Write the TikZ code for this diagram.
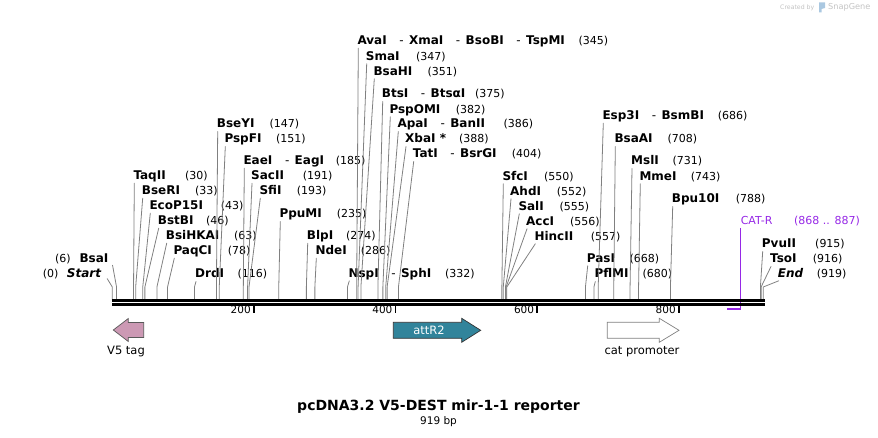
\documentclass[tikz,border=0pt]{standalone}
\usepackage{fontspec}
\setmainfont{DejaVu Sans}
\usepackage{tikz}
\usetikzlibrary{calc}
\definecolor{cutgray}{RGB}{128,128,128}
\definecolor{vfive}{RGB}{204,153,180}
\definecolor{attr}{RGB}{49,132,155}
\definecolor{primer}{RGB}{150,40,230}
\definecolor{logo}{RGB}{195,195,195}
\definecolor{logoicon}{RGB}{170,200,225}
\newcommand{\sitex}[1]{112.3+0.7083*#1}
\newcommand{\dsh}{\hspace{1.05em}{\mdseries -}\hspace{0.45em}}

\begin{document}
\begin{tikzpicture}[x=1pt, y=-1pt, line join = round, line cap = round,
    enz/.style={anchor=west, inner sep=0pt, text height=8.5pt, text depth=2.5pt, font=\fontsize{12}{14}\selectfont\bfseries},
    bpnum/.style={anchor=west, inner sep=0pt, text height=8.5pt, text depth=2.5pt, font=\fontsize{11}{13}\selectfont},
    cut/.style={draw=cutgray, line width=0.8pt, to path={-- ([yshift=13pt]\tikztotarget) -- (\tikztotarget)}},
    bb/.style={line width=2.3pt, line cap=butt},
    tickmark/.style={line width=1.6pt, line cap=butt},
    ticklabel/.style={anchor=east, inner sep=0pt, font=\fontsize{10.5}{12}\selectfont},
    feat/.style={line width=0.7pt, line join=miter},
    featlabel/.style={inner sep=0pt, font=\fontsize{11.5}{13}\selectfont}]
  \useasboundingbox (0,0) rectangle (878,438);

  % left of the start
  \node[enz] (start) at (66.7,274.7) {\itshape Start};
  \node[bpnum] (startn) at (42.7,274.7) {(0)};
  \coordinate (starts) at (\sitex{0},300);
  \draw[cut] ([xshift=6pt,yshift=-4pt]start.east) to (starts);
  \node[enz] (bsaI) at (79.3,259.3) {BsaI};
  \node[bpnum] (bsaIn) at (55,259.3) {(6)};
  \coordinate (bsaIs) at (\sitex{6},300);
  \draw[cut] ([xshift=4pt,yshift=-6pt]bsaI.east) to (bsaIs);

  \node[enz] (taqII) at (133.3,176.7) {TaqII};
  \node[bpnum] (taqIIn) at (185,176.7) {(30)};
  \coordinate (taqIIs) at (\sitex{30},300);
  \draw[cut] ([xshift=1pt,yshift=-6.5pt]taqII.west) to (taqIIs);
  \node[enz] (bseRI) at (141.7,191.7) {BseRI};
  \node[bpnum] (bseRIn) at (195,191.7) {(33)};
  \coordinate (bseRIs) at (\sitex{33},300);
  \draw[cut] ([xshift=1pt,yshift=-6.5pt]bseRI.west) to (bseRIs);
  \node[enz] (ecoP) at (149.3,206.7) {EcoP15I};
  \node[bpnum] (ecoPn) at (220.7,206.7) {(43)};
  \coordinate (ecoPs) at (\sitex{43},300);
  \draw[cut] ([xshift=1pt,yshift=-6.5pt]ecoP.west) to (ecoPs);
  \node[enz] (bstBI) at (157.7,221.7) {BstBI};
  \node[bpnum] (bstBIn) at (206,221.7) {(46)};
  \coordinate (bstBIs) at (\sitex{46},300);
  \draw[cut] ([xshift=1pt,yshift=-6.5pt]bstBI.west) to (bstBIs);
  \node[enz] (bsiHKAI) at (165.7,236.7) {BsiHKAI};
  \node[bpnum] (bsiHKAIn) at (234,236.7) {(63)};
  \coordinate (bsiHKAIs) at (\sitex{63},300);
  \draw[cut] ([xshift=1pt,yshift=-6.5pt]bsiHKAI.west) to (bsiHKAIs);
  \node[enz] (paqCI) at (173.3,251.7) {PaqCI};
  \node[bpnum] (paqCIn) at (227.7,251.7) {(78)};
  \coordinate (paqCIs) at (\sitex{78},300);
  \draw[cut] ([xshift=1pt,yshift=-6.5pt]paqCI.west) to (paqCIs);
  \node[enz] (drdI) at (195,275) {DrdI};
  \node[bpnum] (drdIn) at (237.3,275) {(116)};
  \coordinate (drdIs) at (\sitex{116},300);
  \draw[cut] ([xshift=1pt,yshift=-6.5pt]drdI.west) to (drdIs);

  \node[enz] (bseYI) at (216.7,125) {BseYI};
  \node[bpnum] (bseYIn) at (269.3,125) {(147)};
  \coordinate (bseYIs) at (\sitex{147},300);
  \draw[cut] ([xshift=1pt,yshift=-6.5pt]bseYI.west) to (bseYIs);
  \node[enz] (pspFI) at (224.3,140) {PspFI};
  \node[bpnum] (pspFIn) at (276,140) {(151)};
  \coordinate (pspFIs) at (\sitex{151},300);
  \draw[cut] ([xshift=1pt,yshift=-6.5pt]pspFI.west) to (pspFIs);
  \node[enz] (eaeI) at (243.3,161.7) {EaeI\dsh EagI};
  \node[bpnum] (eaeIn) at (335.7,161.7) {(185)};
  \coordinate (eaeIs) at (\sitex{185},300);
  \draw[cut] ([xshift=1pt,yshift=-6.5pt]eaeI.west) to (eaeIs);
  \node[enz] (sacII) at (251,176.7) {SacII};
  \node[bpnum] (sacIIn) at (302.7,176.7) {(191)};
  \coordinate (sacIIs) at (\sitex{191},300);
  \draw[cut] ([xshift=1pt,yshift=-6.5pt]sacII.west) to (sacIIs);
  \node[enz] (sfiI) at (259.3,191.7) {SfiI};
  \node[bpnum] (sfiIn) at (296.7,191.7) {(193)};
  \coordinate (sfiIs) at (\sitex{193},300);
  \draw[cut] ([xshift=1pt,yshift=-6.5pt]sfiI.west) to (sfiIs);
  \node[enz] (ppuMI) at (279.3,215) {PpuMI};
  \node[bpnum] (ppuMIn) at (336.7,215) {(235)};
  \coordinate (ppuMIs) at (\sitex{235},300);
  \draw[cut] ([xshift=1pt,yshift=-6.5pt]ppuMI.west) to (ppuMIs);
  \node[enz] (blpI) at (306.7,236.7) {BlpI};
  \node[bpnum] (blpIn) at (346,236.7) {(274)};
  \coordinate (blpIs) at (\sitex{274},300);
  \draw[cut] ([xshift=1pt,yshift=-6.5pt]blpI.west) to (blpIs);
  \node[enz] (ndeI) at (315.3,251.7) {NdeI};
  \node[bpnum] (ndeIn) at (360.7,251.7) {(286)};
  \coordinate (ndeIs) at (\sitex{286},300);
  \draw[cut] ([xshift=1pt,yshift=-6.5pt]ndeI.west) to (ndeIs);
  \node[enz] (nspI) at (348.3,274.3) {NspI\dsh SphI};
  \node[bpnum] (nspIn) at (445,274.3) {(332)};
  \coordinate (nspIs) at (\sitex{332},300);
  \draw[cut] ([xshift=1pt,yshift=-6.5pt]nspI.west) to (nspIs);

  \node[enz] (avaI) at (357.3,41.7) {AvaI\dsh XmaI\dsh BsoBI\dsh TspMI};
  \node[bpnum] (avaIn) at (578.3,41.7) {(345)};
  \coordinate (avaIs) at (\sitex{345},300);
  \draw[cut] ([xshift=1pt,yshift=-6.5pt]avaI.west) to (avaIs);
  \node[enz] (smaI) at (365.7,57.3) {SmaI};
  \node[bpnum] (smaIn) at (416,57.3) {(347)};
  \coordinate (smaIs) at (\sitex{347},300);
  \draw[cut] ([xshift=1pt,yshift=-6.5pt]smaI.west) to (smaIs);
  \node[enz] (bsaHI) at (373.3,72.3) {BsaHI};
  \node[bpnum] (bsaHIn) at (427.3,72.3) {(351)};
  \coordinate (bsaHIs) at (\sitex{351},300);
  \draw[cut] ([xshift=1pt,yshift=-6.5pt]bsaHI.west) to (bsaHIs);
  \node[enz] (btsI) at (381.7,95) {BtsI\dsh BtsαI};
  \node[bpnum] (btsIn) at (475,95) {(375)};
  \coordinate (btsIs) at (\sitex{375},300);
  \draw[cut] ([xshift=1pt,yshift=-6.5pt]btsI.west) to (btsIs);
  \node[enz] (pspOMI) at (389.3,110.3) {PspOMI};
  \node[bpnum] (pspOMIn) at (455.7,110.3) {(382)};
  \coordinate (pspOMIs) at (\sitex{382},300);
  \draw[cut] ([xshift=1pt,yshift=-6.5pt]pspOMI.west) to (pspOMIs);
  \node[enz] (apaI) at (397.3,125) {ApaI\dsh BanII};
  \node[bpnum] (apaIn) at (503.3,125) {(386)};
  \coordinate (apaIs) at (\sitex{386},300);
  \draw[cut] ([xshift=1pt,yshift=-6.5pt]apaI.west) to (apaIs);
  \node[enz] (xbaI) at (405,140) {XbaI *};
  \node[bpnum] (xbaIn) at (459,140) {(388)};
  \coordinate (xbaIs) at (\sitex{388},300);
  \draw[cut] ([xshift=1pt,yshift=-6.5pt]xbaI.west) to (xbaIs);
  \node[enz] (tatI) at (412.7,155) {TatI\dsh BsrGI};
  \node[bpnum] (tatIn) at (511.7,155) {(404)};
  \coordinate (tatIs) at (\sitex{404},300);
  \draw[cut] ([xshift=1pt,yshift=-6.5pt]tatI.west) to (tatIs);

  \node[enz] (sfcI) at (502.3,177.3) {SfcI};
  \node[bpnum] (sfcIn) at (544,177.3) {(550)};
  \coordinate (sfcIs) at (\sitex{550},300);
  \draw[cut] ([xshift=1pt,yshift=-6.5pt]sfcI.west) to (sfcIs);
  \node[enz] (ahdI) at (510,192.3) {AhdI};
  \node[bpnum] (ahdIn) at (556.7,192.3) {(552)};
  \coordinate (ahdIs) at (\sitex{552},300);
  \draw[cut] ([xshift=1pt,yshift=-6.5pt]ahdI.west) to (ahdIs);
  \node[enz] (salI) at (518.3,207.3) {SalI};
  \node[bpnum] (salIn) at (559.3,207.3) {(555)};
  \coordinate (salIs) at (\sitex{555},300);
  \draw[cut] ([xshift=1pt,yshift=-6.5pt]salI.west) to (salIs);
  \node[enz] (accI) at (526,222.3) {AccI};
  \node[bpnum] (accIn) at (570,222.3) {(556)};
  \coordinate (accIs) at (\sitex{556},300);
  \draw[cut] ([xshift=1pt,yshift=-6.5pt]accI.west) to (accIs);
  \node[enz] (hincII) at (534.3,237.3) {HincII};
  \node[bpnum] (hincIIn) at (590.7,237.3) {(557)};
  \coordinate (hincIIs) at (\sitex{557},300);
  \draw[cut] ([xshift=1pt,yshift=-6.5pt]hincII.west) to (hincIIs);
  \node[enz] (pasI) at (586.7,259.3) {PasI};
  \node[bpnum] (pasIn) at (629.3,259.3) {(668)};
  \coordinate (pasIs) at (\sitex{668},300);
  \draw[cut] ([xshift=1pt,yshift=-6.5pt]pasI.west) to (pasIs);
  \node[enz] (pflMI) at (594.3,275) {PflMI};
  \node[bpnum] (pflMIn) at (642.3,275) {(680)};
  \coordinate (pflMIs) at (\sitex{680},300);
  \draw[cut] ([xshift=1pt,yshift=-6.5pt]pflMI.west) to (pflMIs);

  \node[enz] (esp3I) at (602.3,116.7) {Esp3I\dsh BsmBI};
  \node[bpnum] (esp3In) at (717.7,116.7) {(686)};
  \coordinate (esp3Is) at (\sitex{686},300);
  \draw[cut] ([xshift=1pt,yshift=-6.5pt]esp3I.west) to (esp3Is);
  \node[enz] (bsaAI) at (614.3,140) {BsaAI};
  \node[bpnum] (bsaAIn) at (667.3,140) {(708)};
  \coordinate (bsaAIs) at (\sitex{708},300);
  \draw[cut] ([xshift=1pt,yshift=-6.5pt]bsaAI.west) to (bsaAIs);
  \node[enz] (mslI) at (631,162) {MslI};
  \node[bpnum] (mslIn) at (672.3,162) {(731)};
  \coordinate (mslIs) at (\sitex{731},300);
  \draw[cut] ([xshift=1pt,yshift=-6.5pt]mslI.west) to (mslIs);
  \node[enz] (mmeI) at (639.3,177.3) {MmeI};
  \node[bpnum] (mmeIn) at (690.7,177.3) {(743)};
  \coordinate (mmeIs) at (\sitex{743},300);
  \draw[cut] ([xshift=1pt,yshift=-6.5pt]mmeI.west) to (mmeIs);
  \node[enz] (bpu10I) at (671.7,200) {Bpu10I};
  \node[bpnum] (bpu10In) at (735.7,200) {(788)};
  \coordinate (bpu10Is) at (\sitex{788},300);
  \draw[cut] ([xshift=1pt,yshift=-6.5pt]bpu10I.west) to (bpu10Is);

  \node[enz] (pvuII) at (761.7,245) {PvuII};
  \node[bpnum] (pvuIIn) at (815,245) {(915)};
  \coordinate (pvuIIs) at (\sitex{915},300);
  \draw[cut] ([xshift=1pt,yshift=-6.5pt]pvuII.west) to (pvuIIs);
  \node[enz] (tsoI) at (770,260) {TsoI};
  \node[bpnum] (tsoIn) at (812.7,260) {(916)};
  \coordinate (tsoIs) at (\sitex{916},300);
  \draw[cut] ([xshift=1pt,yshift=-6.5pt]tsoI.west) to (tsoIs);
  \node[enz] (end) at (777.7,274.3) {\itshape End};
  \node[bpnum] (endn) at (816.7,274.3) {(919)};
  \coordinate (ends) at (\sitex{919},300);
  \draw[cut] ([xshift=1pt,yshift=-6.5pt]end.west) to (ends);

  % primer
  \node[bpnum, text=primer] (catR) at (\sitex{887},222) {CAT-R};
  \node[bpnum, text=primer] (catRn) at (794,222) {(868 .. 887)};
  \coordinate (catRa) at (\sitex{868},308.7);
  \coordinate (catRb) at (\sitex{887},308.7);
  \draw[primer, line width=1.2pt, line cap=butt] ([yshift=-6pt]catR.west) -- (catRb);
  \draw[primer, line width=2pt, line cap=butt] (catRb) -- (catRa);

  % backbone
  \coordinate (left) at (112,300.5);
  \coordinate (right) at (765,300.5);
  \draw[bb] (left) -- (right);
  \draw[bb] ([yshift=-4pt]left) -- ([yshift=-4pt]right);
  \coordinate (t200) at (\sitex{200},305);
  \coordinate (t400) at (\sitex{400},305);
  \coordinate (t600) at (\sitex{600},305);
  \coordinate (t800) at (\sitex{800},305);
  \draw[tickmark] (t200) -- ++(0,8);
  \draw[tickmark] (t400) -- ++(0,8);
  \draw[tickmark] (t600) -- ++(0,8);
  \draw[tickmark] (t800) -- ++(0,8);
  \node[ticklabel] (l200) at ([xshift=-3pt,yshift=-5pt]t200) {200};
  \node[ticklabel] (l400) at ([xshift=-3pt,yshift=-5pt]t400) {400};
  \node[ticklabel] (l600) at ([xshift=-3pt,yshift=-5pt]t600) {600};
  \node[ticklabel] (l800) at ([xshift=-3pt,yshift=-5pt]t800) {800};

  % features
  \draw[feat, draw=black!65, fill=vfive] (113.3,330) -- (128.3,318.5) -- (128.3,322.5) -- (143.7,322.5)
    -- (143.7,337.5) -- (128.3,337.5) -- (128.3,341.5) -- cycle;
  \node[featlabel] (vfivetag) at (126,352) {V5 tag};
  \draw[feat, draw=black!80, fill=attr] (393.3,322.3) -- (461.7,322.3) -- (461.7,318.3) -- (480.7,330.3)
    -- (461.7,342.3) -- (461.7,338.3) -- (393.3,338.3) -- cycle;
  \node[featlabel, text=white] (attRtwo) at (429,330) {attR2};
  \draw[feat, draw=black!50, fill=white] (607.3,322.3) -- (659.3,322.3) -- (659.3,318.3) -- (679,330.3)
    -- (659.3,342.3) -- (659.3,338.3) -- (607.3,338.3) -- cycle;
  \node[featlabel] (catprom) at (642,352) {cat promoter};

  % title
  \node[inner sep=0pt, font=\fontsize{14}{16}\selectfont\bfseries] (title) at (438.5,407) {pcDNA3.2 V5-DEST mir-1-1 reporter};
  \node[inner sep=0pt, font=\fontsize{10.5}{12}\selectfont] (size) at (438.5,422) {919 bp};

  % logo
  \node[anchor=west, inner sep=0pt, text=logo, font=\fontsize{6.2}{7}\selectfont] (made) at (780,7.5) {Created by};
  \fill[logoicon] (819,2.5) -- (825,2.5) -- (825,8) -- (821.5,9) -- (821.5,12.5) -- (819,12.5) -- cycle;
  \node[anchor=west, inner sep=0pt, text=logo, font=\fontsize{8.2}{9}\selectfont] (sg) at (828,7) {SnapGene};
\end{tikzpicture}
\end{document}
